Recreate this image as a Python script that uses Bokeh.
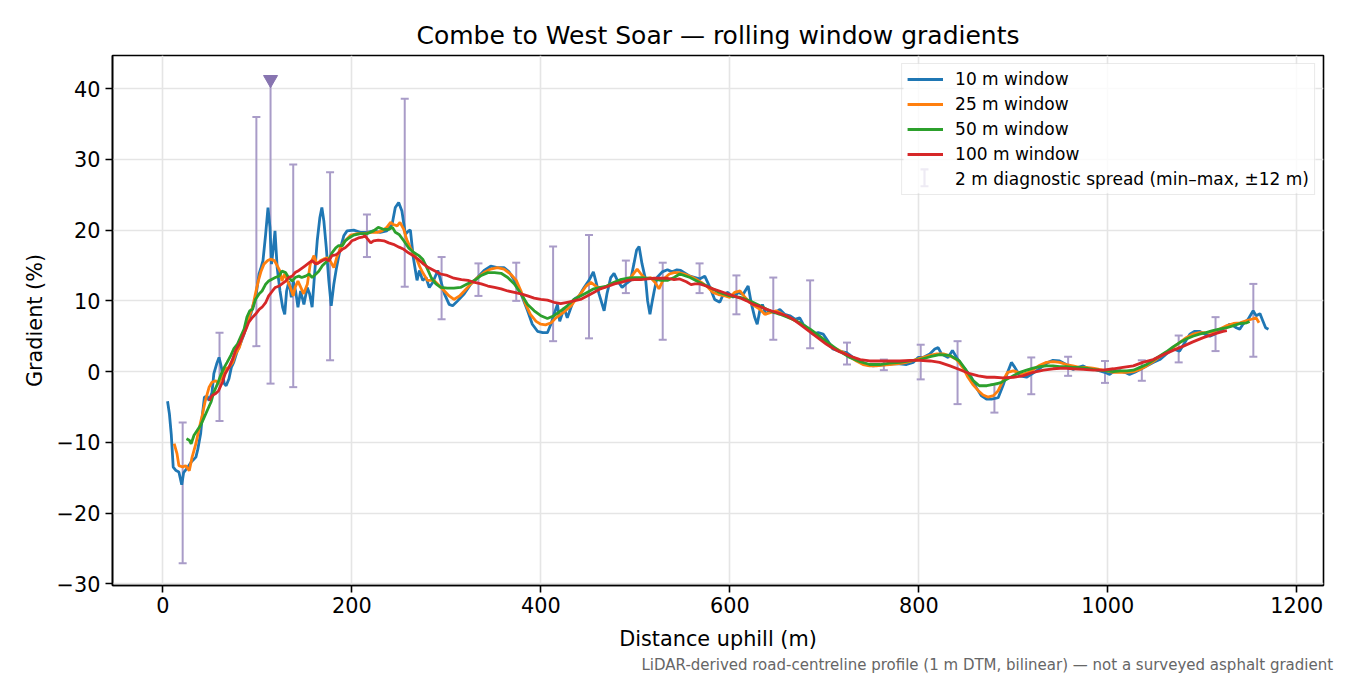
from bokeh.plotting import figure
from bokeh.models import Range1d, FixedTicker, Legend, LegendItem, Title, Whisker, TeeHead
from bokeh.embed import file_html
from bokeh.resources import INLINE

# ---------------- data ----------------
dist_10 = [5, 7, 9, 11, 14, 17, 20, 22, 26, 30, 35, 37, 40, 42, 44, 47, 49, 52, 54, 57,
           59.5, 62, 65, 67, 70, 72.5, 75, 79, 82, 86, 89, 93, 96, 98, 101.8, 103.5, 106, 108.8, 111.3, 113.4,
           115, 117, 118.7, 121, 124, 126.8, 129, 131, 133.5, 136, 138, 140.5, 143, 145.8, 149.3, 152.8, 155.3, 158, 160.6, 163.4,
           166.2, 168.3, 170.4, 173, 175.7, 178.2, 181, 183.8, 187.3, 191.5, 195, 202, 209, 216, 223, 230, 237, 242.6, 246, 249.6,
           253, 256.7, 260, 262, 265, 269, 271.5, 275, 278.5, 282, 285.6, 291, 294, 298, 303, 306.7, 312, 319, 326, 333,
           340, 347, 354, 361, 366.5, 372, 379, 386, 391, 396.5, 402, 407, 410.6, 414, 417.6, 420, 424.6, 428, 431.7, 435,
           440.5, 445.8, 451, 455.6, 458, 461.6, 467, 470, 474, 477.5, 481, 486, 490, 495, 498.6, 501.4, 504, 507, 511, 513,
           515.5, 518, 520, 523, 528.5, 534, 539, 544, 548, 557.7, 568, 573.5, 579, 584, 589.4, 593, 598, 603.5, 609, 614,
           619.4, 623, 626.5, 629, 631.7, 634.5, 638, 642, 647.6, 653, 658, 663.5, 669, 674, 677.6, 683, 688, 693.5, 698.8, 704,
           709, 716, 723.5, 730.5, 737.6, 744.6, 751.7, 758.7, 765.8, 772.8, 780, 787, 794, 799.3, 804.6, 811.6, 816.9, 820.5, 824, 831,
           835.6, 840, 845, 850.4, 855.7, 861, 866, 871.6, 877, 884, 889, 894.5, 898, 901.6, 906.9, 914, 919, 924.5, 931.6, 936.9,
           942, 949, 956, 963, 968.6, 974, 981, 986, 991.5, 996.8, 1002, 1007, 1012.7, 1018, 1023, 1028.6, 1034, 1041, 1048, 1055,
           1062, 1069, 1076, 1081.5, 1086.8, 1092, 1097, 1102.5, 1108, 1113, 1118, 1124, 1129, 1132.6, 1136, 1139.6, 1143, 1148.5, 1153.8, 1157,
           1161, 1164, 1167, 1170]
grad_10 = [-4.2, -6.0, -9.0, -13.5, -14.0, -14.2, -16.0, -14.3, -13.6, -12.8, -12.1, -11.0, -8.8, -6.0, -3.6, -3.5, -4.1, -3.0, -0.3, 1.1,
           2.0, 0.6, -1.7, -2.0, -1.0, 0.6, 1.3, 3.0, 3.9, 5.3, 6.7, 8.1, 9.6, 10.2, 13.8, 14.5, 15.7, 19.4, 23.2, 20.4,
           15.2, 17.5, 19.9, 14.7, 11.4, 9.1, 8.1, 11.4, 12.8, 10.5, 12.8, 11.4, 9.1, 11.4, 9.5, 11.9, 11.0, 9.1, 13.8, 18.5,
           21.8, 23.2, 21.3, 17.5, 12.8, 9.3, 12.4, 14.7, 17.1, 19.2, 19.9, 20.0, 19.7, 19.7, 19.9, 19.7, 19.9, 20.8, 23.2, 23.9,
           22.7, 19.4, 19.9, 20.0, 16.2, 12.9, 14.3, 12.9, 13.3, 11.9, 12.6, 14.3, 12.9, 11.0, 9.5, 9.3, 10.0, 11.0, 12.4, 13.3,
           14.3, 14.9, 14.7, 14.7, 14.1, 12.9, 11.0, 8.6, 6.7, 5.7, 5.5, 5.5, 6.7, 8.1, 9.5, 7.1, 9.0, 7.6, 9.0, 10.2,
           10.7, 11.9, 12.9, 14.1, 12.9, 11.0, 8.6, 11.0, 13.3, 13.9, 12.9, 11.9, 12.4, 12.9, 15.3, 17.2, 17.7, 15.3, 12.9, 10.0,
           8.1, 10.0, 11.4, 13.3, 14.1, 14.4, 14.1, 14.4, 14.3, 13.5, 13.1, 13.5, 11.9, 10.2, 9.8, 10.9, 11.2, 10.5, 11.2, 10.9,
           12.1, 9.5, 7.6, 6.7, 8.6, 9.5, 8.1, 8.6, 8.3, 8.8, 8.1, 7.9, 7.4, 7.6, 6.7, 6.0, 5.3, 5.5, 5.3, 4.3,
           3.2, 2.9, 2.7, 2.0, 1.5, 1.0, 0.8, 0.9, 1.0, 1.1, 1.1, 1.0, 1.3, 2.0, 2.0, 2.5, 3.2, 3.4, 2.5, 2.0,
           3.0, 2.0, 1.0, 0.1, -0.8, -2.3, -3.4, -3.9, -3.9, -3.7, -2.0, 0.1, 1.3, 0.6, -0.6, -0.8, -0.4, 0.1, 0.8, 1.3,
           1.6, 1.5, 1.0, 0.3, 0.6, 0.8, 0.3, 0.3, 0.1, -0.1, -0.4, 0.1, 0.1, -0.1, -0.4, -0.1, 0.3, 0.8, 1.3, 1.7,
           2.5, 3.2, 2.9, 4.1, 5.3, 5.7, 5.7, 5.3, 5.0, 5.3, 5.8, 6.2, 6.7, 6.5, 6.2, 6.0, 6.7, 7.4, 8.6, 7.9,
           8.2, 7.2, 6.2, 6.0]

dist_25 = [12, 15, 17, 21, 24, 28, 31, 35, 38, 42, 45, 49, 52, 56, 59, 63, 66, 70, 74, 77,
           81, 84, 88, 91, 95, 98, 101, 104, 107, 111, 114, 118, 121, 124, 126, 129, 132, 135, 138, 140,
           143, 146, 149, 153, 156, 160, 163, 167, 170, 174, 177, 181, 184, 188, 193, 199, 206, 213, 220, 227,
           232, 237, 241, 244, 248, 251, 255, 258, 262, 266, 269, 272, 275, 280, 287, 293, 298, 303, 308, 314,
           319, 326, 333, 340, 347, 354, 361, 368, 374, 379, 384, 389, 395, 400, 405, 411, 416, 421, 426, 432,
           437, 442, 448, 453, 460, 467, 474, 481, 488, 495, 499, 502, 506, 511, 516, 521, 525, 530, 536, 541,
           546, 552, 561, 570, 577, 582, 588, 595, 600, 605, 611, 616, 621, 626, 632, 637, 642, 649, 656, 663,
           670, 678, 685, 692, 699, 706, 713, 720, 727, 734, 741, 748, 755, 762, 769, 776, 783, 790, 797, 805,
           812, 819, 826, 833, 840, 847, 852, 857, 863, 868, 873, 879, 884, 889, 894, 900, 905, 910, 916, 921,
           928, 935, 942, 949, 956, 963, 970, 977, 984, 991, 999, 1006, 1013, 1020, 1027, 1034, 1041, 1048, 1055, 1062,
           1069, 1076, 1083, 1090, 1097, 1104, 1111, 1118, 1126, 1133, 1140, 1147, 1152, 1157, 1160]
grad_25 = [-10.2, -11.6, -13.3, -13.5, -13.3, -14.0, -12.1, -10.2, -8.3, -6.0, -4.1, -2.2, -1.5, -1.3, -1.7, -0.6, 0.4, 0.6, 1.3, 2.5,
           3.4, 4.8, 6.2, 7.7, 9.1, 11.0, 12.8, 14.2, 15.2, 15.7, 15.9, 15.7, 15.0, 14.2, 12.8, 13.8, 12.8, 11.9, 10.7, 11.9,
           12.8, 11.9, 11.0, 12.4, 15.2, 16.4, 15.2, 15.7, 15.9, 16.1, 15.7, 14.7, 16.1, 17.5, 18.5, 19.3, 19.5, 19.5, 19.7, 19.7,
           19.9, 20.4, 21.1, 20.8, 20.6, 21.1, 20.1, 18.7, 17.5, 16.6, 15.8, 14.8, 14.0, 12.9, 12.9, 12.1, 11.4, 10.7, 10.2, 10.7,
           11.4, 12.4, 13.3, 14.0, 14.5, 14.7, 14.5, 13.8, 12.9, 11.4, 9.5, 8.1, 7.1, 6.7, 6.6, 6.9, 7.6, 8.1, 8.6, 9.3,
           10.2, 11.0, 12.1, 12.6, 11.9, 11.9, 12.4, 12.6, 12.9, 13.3, 14.0, 14.5, 13.8, 13.1, 13.3, 12.6, 11.7, 13.1, 13.8, 14.0,
           14.0, 13.8, 13.3, 12.6, 11.9, 11.2, 10.9, 10.7, 10.5, 11.2, 11.4, 10.5, 9.8, 9.3, 8.8, 8.1, 8.3, 8.6, 8.1, 7.6,
           7.2, 6.5, 5.8, 5.0, 4.3, 3.6, 3.2, 2.7, 2.1, 1.5, 1.0, 0.8, 0.8, 0.9, 1.0, 1.1, 1.2, 1.4, 1.7, 2.0,
           2.3, 2.5, 2.5, 2.2, 1.7, 0.5, -0.8, -1.8, -2.7, -3.3, -3.6, -3.4, -2.7, -1.3, -0.1, 0.1, -0.1, -0.4, -0.1, 0.3,
           0.9, 1.3, 1.4, 1.3, 1.0, 0.8, 0.6, 0.6, 0.5, 0.3, 0.1, -0.1, -0.1, -0.1, 0.0, 0.3, 0.8, 1.4, 2.1, 2.7,
           3.4, 4.1, 4.8, 5.3, 5.5, 5.5, 5.6, 6.0, 6.5, 6.8, 6.9, 7.2, 7.4, 7.6, 6.9]

dist_50 = [25, 28, 30, 33, 37, 40, 44, 47, 51, 54, 58, 61, 65, 68, 72, 75, 79, 82, 86, 89,
           92, 95, 98, 102, 105, 109, 112, 116, 119, 123, 126, 130, 133, 137, 140, 144, 147, 151, 155, 158,
           162, 165, 169, 172, 176, 179, 183, 186, 190, 193, 197, 202, 209, 216, 223, 228, 234, 239, 243, 246,
           250, 255, 260, 266, 271, 275, 279, 284, 289, 294, 301, 308, 315, 322, 330, 337, 344, 351, 358, 365,
           372, 379, 386, 393, 400, 407, 414, 421, 428, 435, 442, 449, 456, 463, 470, 477, 484, 491, 499, 506,
           513, 520, 527, 534, 541, 547, 558, 568, 579, 589, 600, 611, 621, 632, 642, 653, 663, 674, 685, 695,
           706, 716, 727, 738, 748, 759, 769, 780, 790, 801, 812, 822, 833, 843, 850, 857, 864, 872, 879, 886,
           893, 900, 907, 914, 921, 928, 935, 942, 949, 956, 963, 970, 977, 984, 991, 999, 1006, 1013, 1020, 1027,
           1034, 1041, 1048, 1055, 1062, 1069, 1076, 1083, 1090, 1097, 1104, 1111, 1118, 1126, 1133, 1140, 1147, 1150]
grad_50 = [-9.5, -9.7, -10.2, -9.0, -8.2, -7.6, -6.4, -5.5, -4.3, -2.9, -1.7, -0.6, 0.6, 1.3, 2.3, 3.2, 3.9, 4.8, 6.0, 7.7,
           8.6, 8.8, 10.2, 11.0, 11.4, 12.4, 12.8, 13.1, 13.3, 13.5, 14.2, 14.0, 13.3, 12.8, 13.3, 13.5, 13.3, 13.5, 13.8, 13.3,
           13.8, 14.2, 15.0, 15.4, 15.9, 16.8, 17.5, 17.8, 17.8, 18.5, 18.9, 19.3, 19.5, 19.5, 19.9, 20.4, 20.1, 20.1, 20.4, 19.7,
           19.4, 18.5, 17.5, 16.8, 16.4, 15.9, 14.8, 13.3, 12.4, 11.9, 11.8, 11.8, 11.9, 12.4, 12.9, 13.6, 14.0, 14.0, 13.9, 13.3,
           12.4, 11.0, 9.5, 8.6, 7.9, 7.5, 7.9, 8.6, 9.3, 10.2, 10.7, 11.2, 11.7, 11.9, 12.1, 12.6, 13.0, 13.2, 13.3, 13.3,
           13.2, 13.1, 12.9, 12.9, 13.3, 13.8, 13.3, 12.6, 11.9, 11.2, 10.7, 10.5, 10.0, 9.3, 8.6, 8.1, 7.6, 6.9, 6.0, 5.0,
           3.9, 2.9, 2.0, 1.4, 1.0, 1.0, 1.2, 1.3, 1.5, 1.7, 2.1, 2.4, 2.3, 1.5, 0.2, -1.2, -2.0, -2.0, -1.8, -1.6,
           -1.1, -0.6, -0.1, 0.2, 0.5, 0.7, 0.8, 0.8, 0.7, 0.7, 0.6, 0.6, 0.5, 0.3, 0.2, 0.1, 0.0, 0.1, 0.1, 0.2,
           0.6, 1.0, 1.6, 2.2, 2.8, 3.5, 4.1, 4.6, 5.0, 5.3, 5.5, 5.8, 6.0, 6.2, 6.5, 6.8, 6.9, 7.1]

dist_100 = [49, 52, 56, 59, 63, 66, 70, 74, 77, 81, 84, 88, 91, 95, 98, 102, 105, 109, 112, 116,
            119, 123, 126, 130, 133, 137, 140, 144, 147, 151, 155, 158, 162, 165, 169, 172, 176, 179, 183, 186,
            190, 193, 197, 200, 204, 207, 211, 214, 217, 220, 223, 228, 234, 239, 244, 250, 255, 260, 266, 271,
            276, 280, 287, 294, 301, 308, 316, 323, 330, 337, 344, 351, 358, 365, 372, 379, 386, 393, 400, 407,
            414, 421, 428, 435, 442, 449, 456, 463, 470, 478, 485, 492, 499, 506, 513, 520, 527, 534, 541, 547,
            554, 559, 563, 568, 575, 582, 589, 597, 604, 611, 618, 625, 632, 639, 646, 653, 660, 667, 674, 681,
            688, 695, 702, 709, 716, 724, 731, 738, 748, 759, 769, 780, 791, 801, 812, 822, 833, 843, 854, 863,
            872, 880, 889, 900, 910, 921, 932, 942, 953, 963, 974, 985, 995, 1006, 1016, 1027, 1037, 1048, 1059, 1069,
            1080, 1090, 1101, 1112, 1122, 1126]
grad_100 = [-4.1, -3.4, -3.1, -2.7, -1.5, -0.3, 0.6, 1.8, 3.0, 3.9, 4.8, 6.0, 7.0, 7.7, 8.1, 8.8, 9.1, 9.8, 10.7, 11.4,
            11.9, 12.1, 12.4, 12.8, 13.3, 13.5, 14.0, 14.3, 14.6, 15.0, 15.4, 15.7, 15.2, 15.4, 15.7, 15.9, 15.7, 16.4, 16.5, 16.8,
            17.3, 17.5, 18.0, 18.5, 18.7, 18.9, 19.0, 19.2, 18.7, 18.2, 18.5, 18.6, 18.5, 18.2, 18.0, 17.6, 17.3, 16.8, 16.3, 15.8,
            15.2, 14.8, 14.3, 13.8, 13.6, 13.2, 13.0, 12.9, 12.6, 12.4, 12.1, 11.9, 11.7, 11.4, 11.2, 11.0, 10.7, 10.4, 10.2, 10.1,
            9.8, 9.6, 9.8, 10.0, 10.2, 10.7, 11.2, 11.7, 12.0, 12.4, 12.6, 12.9, 13.0, 13.0, 13.1, 13.2, 13.2, 13.2, 13.0, 13.1,
            12.7, 12.3, 12.4, 12.4, 12.1, 11.7, 11.4, 11.0, 10.7, 10.4, 10.0, 9.5, 9.2, 8.8, 8.5, 8.2, 7.9, 7.4, 6.7, 6.0,
            5.3, 4.6, 3.9, 3.3, 2.8, 2.4, 2.0, 1.7, 1.5, 1.5, 1.5, 1.5, 1.6, 1.6, 1.5, 1.3, 0.8, 0.3, -0.3, -0.6,
            -0.8, -0.8, -0.9, -0.8, -0.6, -0.1, 0.2, 0.4, 0.5, 0.4, 0.3, 0.2, 0.2, 0.4, 0.6, 0.8, 1.3, 1.7, 2.4, 3.0,
            3.6, 4.2, 4.8, 5.3, 5.7, 5.8]

# 2 m diagnostic spread (min-max within +/-12 m)
spread_dist = [21, 60, 99, 138, 177, 216, 256, 295, 334, 374, 413, 451, 490, 529, 568, 607, 646, 685, 724, 763,
               802, 841, 880, 919, 958, 997, 1036, 1075, 1114, 1154]
spread_min = [-27.1, -7.0, 3.6, -2.2, 1.6, 16.2, 12.0, 7.4, 10.7, 10.0, 4.3, 4.7, 11.1, 4.5, 11.1, 8.1, 4.5, 3.3, 1.0, 0.2,
              -1.1, -4.6, -5.8, -3.2, -0.6, -1.6, -1.3, 1.3, 2.9, 2.1]
spread_max = [-7.2, 5.5, 36.0, 29.3, 28.2, 22.2, 38.6, 16.2, 15.3, 15.4, 17.7, 19.3, 15.7, 15.4, 15.3, 13.6, 13.3, 12.9, 4.1, 1.7,
              3.8, 4.3, -1.8, 2.0, 2.1, 1.5, 1.6, 5.1, 7.7, 12.4]
# steepest 2 m spread (marked with a triangle)
peak_dist = [114]
peak_min = [-1.7]
peak_max = [41.3]

x_ticks = [0, 200, 400, 600, 800, 1000, 1200]
y_ticks = [-30, -20, -10, 0, 10, 20, 30, 40]
series_labels = ["10 m window", "25 m window", "50 m window", "100 m window"]
spread_label = "2 m diagnostic spread (min\u2013max, \u00b112 m)"
title_text = "Combe to West Soar \u2014 rolling window gradients"
footnote_text = "LiDAR-derived road-centreline profile (1 m DTM, bilinear) \u2014 not a surveyed asphalt gradient"

# ---------------- layout / styling ----------------
FONT = "DejaVu Sans"
W, H = 1348, 673
BL, BT = 112, 55
FW, FH = 1211, 531
BR, BB = W - BL - FW, H - BT - FH
X0, X1 = -53.25, 1228.25
Y0, Y1 = -30.25, 44.7
COLORS = ["#1f77b4", "#ff7f0e", "#2ca02c", "#d62728"]
EB_COLOR = "#a99cc8"
PEAK_COLOR = "#8774b0"


def frame_px(dx, dy):
    """pixel offset from the frame's top-left corner -> data coordinates"""
    return X0 + dx * (X1 - X0) / FW, Y1 - dy * (Y1 - Y0) / FH


p = figure(width=W, height=H, output_backend="svg", toolbar_location=None,
           x_range=Range1d(X0, X1), y_range=Range1d(Y0, Y1),
           min_border_left=BL, min_border_right=BR, min_border_top=BT, min_border_bottom=BB,
           title=title_text,
           x_axis_label="Distance uphill (m)", y_axis_label="Gradient (%)")
p.background_fill_color = "white"
p.border_fill_color = "white"
p.outline_line_color = "black"
p.outline_line_width = 1.6

p.title.text_font = FONT
p.title.text_font_size = "25px"
p.title.text_font_style = "normal"
p.title.text_color = "black"
p.title.align = "center"
p.title.standoff = 12

for ax in (p.xaxis[0], p.yaxis[0]):
    ax.axis_line_color = "black"
    ax.axis_line_width = 1.6
    ax.major_tick_line_color = "black"
    ax.major_tick_line_width = 1.6
    ax.major_tick_out = 7
    ax.major_tick_in = 0
    ax.minor_tick_line_color = None
    ax.major_label_text_font = FONT
    ax.major_label_text_font_size = "20.8px"
    ax.major_label_text_color = "black"
    ax.axis_label_text_font = FONT
    ax.axis_label_text_font_size = "20.8px"
    ax.axis_label_text_font_style = "normal"
    ax.axis_label_text_color = "black"

p.xaxis.major_label_standoff = 4
p.xaxis.axis_label_standoff = 11
p.yaxis.major_label_standoff = 5
p.yaxis.axis_label_standoff = 7

p.xaxis.ticker = FixedTicker(ticks=x_ticks)
p.yaxis.ticker = FixedTicker(ticks=y_ticks)
p.yaxis.major_label_overrides = {t: (str(t).replace("-", "\u2212")) for t in y_ticks}
p.xgrid.ticker = FixedTicker(ticks=x_ticks)
p.ygrid.ticker = FixedTicker(ticks=y_ticks)
p.grid.grid_line_color = "#e5e5e5"
p.grid.grid_line_width = 1.6

# translucent legend background (drawn as a glyph so the error-bar handle can sit on top)
lg_left, lg_top = frame_px(791, 8)
lg_right, lg_bottom = frame_px(FW - 8, 138)
p.quad(left=[lg_left], right=[lg_right], top=[lg_top], bottom=[lg_bottom],
       fill_color="white", fill_alpha=0.8, line_color=None)

# error bars (diagnostic spread)
p.segment(x0=spread_dist, y0=spread_min, x1=spread_dist, y1=spread_max,
          line_color=EB_COLOR, line_width=2)
p.scatter(x=spread_dist + spread_dist, y=spread_min + spread_max, marker="dash",
          size=8, line_color=EB_COLOR, line_width=2)
p.segment(x0=peak_dist, y0=peak_min, x1=peak_dist, y1=peak_max,
          line_color=EB_COLOR, line_width=2)
p.scatter(x=peak_dist, y=peak_min, marker="dash", size=8, line_color=EB_COLOR, line_width=2)
p.scatter(x=peak_dist, y=peak_max, marker="inverted_triangle", size=14,
          fill_color=PEAK_COLOR, line_color=PEAK_COLOR, line_width=1)

# rolling window lines
line_renderers = []
for xs, ys, c in zip([dist_10, dist_25, dist_50, dist_100],
                     [grad_10, grad_25, grad_50, grad_100], COLORS):
    line_renderers.append(p.line(xs, ys, line_color=c, line_width=2.8))

dummy = p.line(x=[], y=[], line_alpha=0)

items = [LegendItem(label=lab, renderers=[r]) for lab, r in zip(series_labels, line_renderers)]
items.append(LegendItem(label=spread_label, renderers=[dummy]))
legend = Legend(items=items, location="top_right", margin=8, padding=5, spacing=5,
                glyph_height=20, glyph_width=36, label_height=20, label_standoff=12,
                label_text_font=FONT, label_text_font_size="17px", label_text_color="black",
                border_line_color="#d6d6d6", border_line_width=1.5,
                background_fill_alpha=0)
p.add_layout(legend)

# error-bar handle in the legend's last row
hx, hy_top = frame_px(812, 114)
_, hy_bot = frame_px(812, 131)
handle = Whisker(base=hx, lower=hy_bot, upper=hy_top, dimension="height",
                 line_color=EB_COLOR, line_width=2.2,
                 upper_head=TeeHead(size=8, line_color=EB_COLOR, line_width=2.2),
                 lower_head=TeeHead(size=8, line_color=EB_COLOR, line_width=2.2))
p.add_layout(handle)

# footnote under the x axis
foot = Title(text=footnote_text, align="left", offset=529, standoff=0,
             text_font=FONT, text_font_size="15px", text_font_style="normal",
             text_color="#666666")
p.add_layout(foot, "below")

open("out.html", "w").write(file_html(p, INLINE))
